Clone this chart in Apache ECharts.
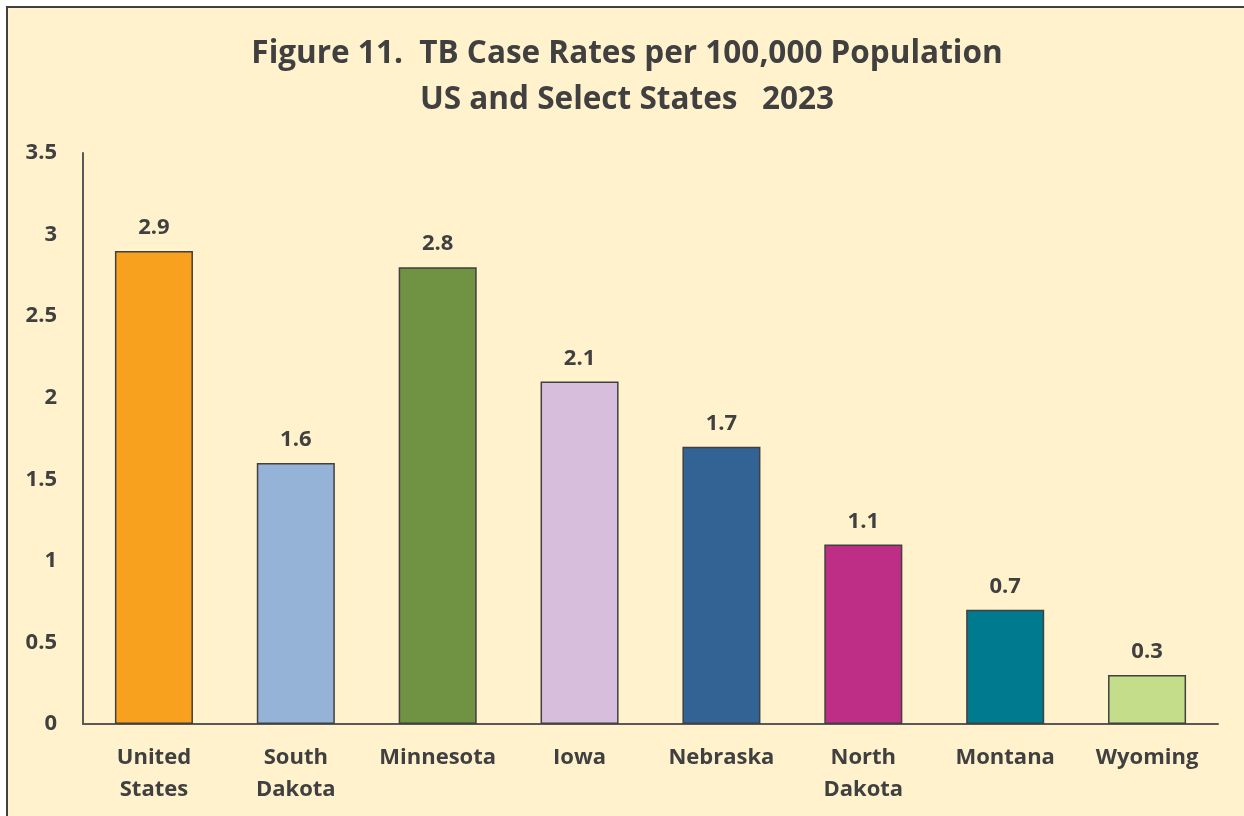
<!DOCTYPE html>
<html><head><meta charset="utf-8">
<script src="https://cdn.jsdelivr.net/npm/echarts@6/dist/echarts.min.js"></script>
<style>
html,body{margin:0;padding:0;background:#fff;width:1244px;height:816px;overflow:hidden;}
#frame{position:absolute;left:6px;top:6px;width:1238px;height:810px;border-left:2px solid #404040;border-top:2px solid #404040;background:#FFF2CC;}
#c{position:absolute;left:0;top:0;width:1238px;height:810px;}
</style></head>
<body>
<div id="frame"><div id="c"></div></div>
<script>
const categories = ['United\nStates','South\nDakota','Minnesota','Iowa','Nebraska','North\nDakota','Montana','Wyoming'];
const rates = [2.9, 1.6, 2.8, 2.1, 1.7, 1.1, 0.7, 0.3];
const barColors = ['#F8A11F','#95B3D7','#6F9343','#D8BEDD','#336294','#BE2E86','#007A8F','#C3DD8B'];
const yTicks = [0, 0.5, 1, 1.5, 2, 2.5, 3, 3.5];

const chart = echarts.init(document.getElementById('c'));
const font = '"Open Sans", Lato, sans-serif';
chart.setOption({
  backgroundColor: 'transparent',
  animation: false,
  title: {
    text: 'Figure 11.  TB Case Rates per 100,000 Population\nUS and Select States   2023',
    left: 'center', top: 18,
    textStyle: {fontFamily: font, fontWeight: 'bold', fontSize: 31.5, color: '#404040', lineHeight: 46}
  },
  grid: {left: 75, right: 28, top: 145, bottom: 94},
  xAxis: {
    type: 'category', data: categories,
    axisLine: {lineStyle: {color: '#595959', width: 2}},
    axisTick: {show: false},
    axisLabel: {fontFamily: font, fontWeight: 'bold', fontSize: 22, color: '#404040', lineHeight: 32, margin: 18, interval: 0}
  },
  yAxis: {
    type: 'value', min: 0, max: 3.5, interval: 0.5,
    axisLine: {show: true, lineStyle: {color: '#595959', width: 2}},
    axisTick: {show: false},
    splitLine: {show: false},
    axisLabel: {fontFamily: font, fontWeight: 'bold', fontSize: 22, color: '#404040', margin: 26,
      formatter: v => yTicks.includes(v) ? String(v) : ''}
  },
  series: [{
    type: 'bar', barWidth: '55%',
    data: rates.map((v, i) => ({value: v, itemStyle: {color: barColors[i]}})),
    itemStyle: {borderColor: '#404040', borderWidth: 1.5},
    label: {show: true, position: 'top', distance: 12, fontFamily: font, fontWeight: 'bold', fontSize: 22, color: '#404040',
      formatter: p => p.value.toFixed(1)}
  }]
});
</script>
</body></html>
